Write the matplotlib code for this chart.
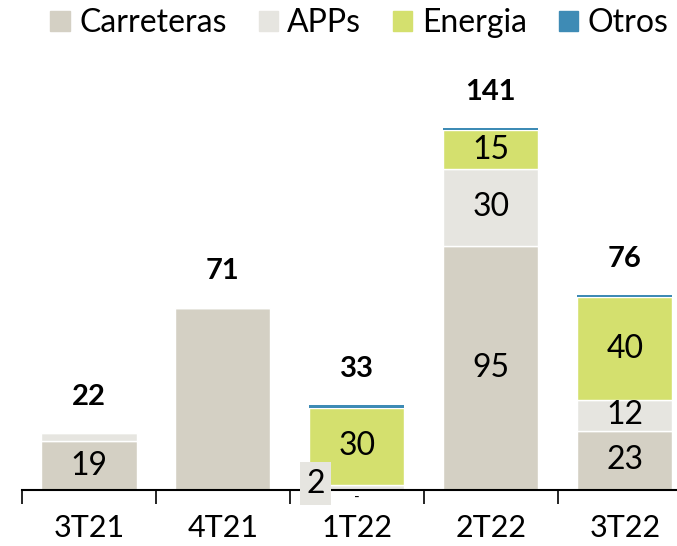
import numpy as np
import matplotlib.pyplot as plt
from matplotlib.patches import Patch

plt.rcParams['font.family'] = ['Lato', 'DejaVu Sans']

quarters = ['3T21', '4T21', '1T22', '2T22', '3T22']
carreteras = [19, 71, 0, 95, 23]
apps = [3, 0, 2, 30, 12]
energia = [0, 0, 30, 15, 40]
otros = [0, 0, 1, 1, 1]
totals = [22, 71, 33, 141, 76]

# labels shown inside segments ('' = not shown)
lab_carr = ['19', '', '-', '95', '23']
lab_apps = ['', '', '2', '30', '12']
lab_ener = ['', '', '30', '15', '40']

c_carr = '#d4d0c4'
c_apps = '#e6e5e0'
c_ener = '#d4e06e'
c_otros = '#3e8bb5'

fig = plt.figure(figsize=(6.77, 5.46), dpi=100)
ax = fig.add_axes([22 / 677, 56 / 546, 655 / 677, 424 / 546])

x = np.arange(len(quarters))
w = 0.71
b1 = np.array(carreteras)
b2 = b1 + np.array(apps)
b3 = b2 + np.array(energia)

ax.bar(x, carreteras, w, color=c_carr, edgecolor='white', linewidth=1)
ax.bar(x, apps, w, bottom=b1, color=c_apps, edgecolor='white', linewidth=1)
ax.bar(x, energia, w, bottom=b2, color=c_ener, edgecolor='white', linewidth=1)
ax.bar(x, otros, w, bottom=b3, color=c_otros, linewidth=0)

fs = 23
for i in range(len(quarters)):
    if lab_carr[i] == '-':
        ax.text(x[i], -3, '-', ha='center', va='center', fontsize=11)
    elif lab_carr[i]:
        ax.text(x[i], carreteras[i] / 2, lab_carr[i], ha='center', va='center', fontsize=fs)
    if lab_apps[i]:
        if apps[i] < 5:
            ax.text(x[i] - 0.31, 2.4, lab_apps[i], ha='center', va='center', fontsize=fs,
                    clip_on=False,
                    bbox=dict(boxstyle='square,pad=0.2', fc=c_apps, ec='none'))
        else:
            ax.text(x[i], b1[i] + apps[i] / 2, lab_apps[i], ha='center', va='center',
                    fontsize=fs)
    if lab_ener[i]:
        ax.text(x[i], b2[i] + energia[i] / 2, lab_ener[i], ha='center', va='center',
                fontsize=fs)
    ax.annotate(str(totals[i]), (x[i], totals[i]), xytext=(0, 26), textcoords='offset points',
                ha='center', va='center', fontsize=21, fontweight='bold')

ax.set_xlim(-0.5, 4.39)
ax.set_ylim(0, 165)
ax.set_xticks(x)
ax.set_xticklabels(quarters, fontsize=22)
ax.tick_params(axis='x', which='major', length=0, pad=17)
ax.set_xticks(np.arange(-0.5, 4.5, 1), minor=True)
ax.tick_params(axis='x', which='minor', length=10, width=1.2, direction='out')
ax.set_yticks([])
for s in ['top', 'right', 'left']:
    ax.spines[s].set_visible(False)
ax.spines['bottom'].set_linewidth(1.5)

handles = [Patch(color=c_carr), Patch(color=c_apps), Patch(color=c_ener), Patch(color=c_otros)]
fig.legend(handles, ['Carreteras', 'APPs', 'Energia', 'Otros'], loc='upper right',
           bbox_to_anchor=(1.03, 1.038), ncol=4, frameon=False, fontsize=fs,
           handlelength=0.6, handleheight=0.6, handletextpad=0.3, columnspacing=1.0)

fig.savefig('out.png', dpi=100)
